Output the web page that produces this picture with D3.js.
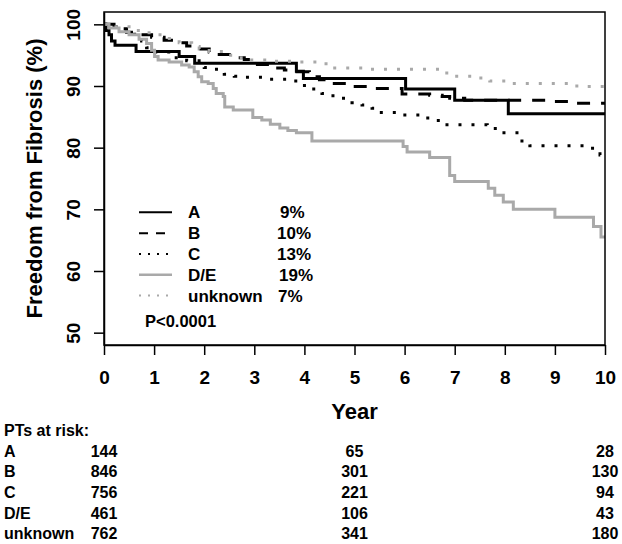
<!DOCTYPE html>
<html>
<head>
<meta charset="utf-8">
<script src="https://cdn.jsdelivr.net/npm/d3@7"></script>
<style>
  html, body { margin: 0; padding: 0; background: #fff; }
  svg { display: block; }
  text { font-family: "Liberation Sans", Arial, Helvetica, sans-serif; font-weight: bold; fill: #000; }
</style>
</head>
<body>
<svg id="chart" width="622" height="544"></svg>
<script>
// ---- data ----
const groups = ["A", "B", "C", "D/E", "unknown"];
const eventRates = ["9%", "10%", "13%", "19%", "7%"];

const timeA = [0, 0.04, 0.1, 0.15, 0.22, 0.64, 1.5, 1.81, 3.84, 3.98, 6.02, 7.0, 8.07, 10];
const survA = [100, 99.0, 98.3, 97.3, 96.6, 95.6, 94.8, 93.7, 92.4, 91.2, 89.5, 87.7, 85.5, 85.5];

const timeB = [0, 0.2, 0.45, 0.7, 0.95, 1.2, 1.45, 1.65, 1.9, 2.1, 2.3, 2.55, 2.8, 2.95, 3.3, 3.6, 3.85, 4.1, 4.3, 4.5, 4.85, 5.3, 5.95, 6.5, 6.75, 6.9, 7.2, 8.9, 9.35, 10];
const survB = [100, 99.3, 98.7, 98.3, 97.9, 97.4, 97.0, 96.5, 96.0, 95.5, 95.1, 94.6, 94.3, 93.5, 92.9, 92.6, 92.3, 91.5, 91.0, 90.4, 89.9, 89.6, 88.7, 88.5, 88.3, 88.0, 87.7, 87.5, 87.2, 87.2];

const timeC = [0, 0.15, 0.35, 0.55, 0.75, 0.85, 1.0, 1.4, 1.65, 2.0, 2.2, 2.4, 2.6, 2.8, 3.3, 3.75, 3.95, 4.15, 4.35, 4.5, 4.75, 4.95, 5.15, 5.35, 5.5, 5.95, 6.3, 6.6, 6.8, 7.65, 7.9, 8.3, 8.5, 9.7, 9.9, 10];
const survC = [100, 99.6, 99.1, 98.4, 97.3, 96.2, 95.5, 94.6, 94.1, 93.0, 92.7, 91.9, 91.6, 91.4, 91.1, 90.8, 90.1, 89.5, 88.8, 88.4, 88.0, 87.3, 86.9, 86.4, 85.7, 85.3, 84.8, 84.4, 83.7, 83.1, 82.4, 81.1, 80.3, 79.9, 78.8, 78.8];

const timeDE = [0, 0.1, 0.3, 0.5, 0.7, 0.85, 0.95, 1.01, 1.08, 1.3, 1.55, 1.7, 1.8, 1.88, 1.95, 2.08, 2.18, 2.24, 2.38, 2.41, 2.58, 2.97, 3.15, 3.32, 3.51, 3.67, 3.84, 4.15, 5.97, 6.05, 6.5, 6.9, 7.0, 7.67, 7.8, 7.97, 8.17, 9.0, 9.77, 9.92, 10];
const survDE = [100, 99.4, 98.8, 98.3, 97.6, 96.9, 95.8, 94.8, 94.2, 93.9, 93.4, 93.1, 92.3, 91.5, 90.7, 90.4, 89.6, 88.8, 88.3, 86.6, 86.1, 84.9, 84.5, 83.8, 83.2, 82.8, 82.4, 81.1, 80.2, 79.3, 78.4, 75.5, 74.5, 73.4, 72.3, 71.2, 70.0, 68.7, 67.2, 65.5, 65.5];

const timeU = [0, 0.2, 0.5, 0.9, 1.2, 1.5, 1.75, 1.9, 2.1, 2.4, 2.65, 2.9, 3.4, 3.8, 4.4, 4.55, 5.3, 6.8, 7.0, 7.45, 7.7, 8.15, 9.4, 9.6, 10];
const survU = [100, 99.6, 99.0, 98.3, 97.7, 97.0, 96.4, 96.0, 95.6, 95.0, 94.6, 94.2, 94.0, 93.9, 93.6, 92.9, 92.7, 92.1, 91.6, 91.3, 90.8, 90.4, 90.0, 89.9, 89.9];

const xTicks = [0, 1, 2, 3, 4, 5, 6, 7, 8, 9, 10];
const yTicks = [50, 60, 70, 80, 90, 100];

const riskTimes = [0, 5, 10];
const riskA = [144, 65, 28];
const riskB = [846, 301, 130];
const riskC = [756, 221, 94];
const riskDE = [461, 106, 43];
const riskU = [762, 341, 180];

// ---- styles (kept separate from data) ----
const GRAY = "#a9a9a9";
const styles = [
  { color: "#000", width: 3, dash: null,   legW: 2, legDash: null },
  { color: "#000", width: 3, dash: "13,11", legW: 2, legDash: "9,8" },
  { color: "#000", width: 3, dash: "3,10",  legW: 2, legDash: "2,7" },
  { color: GRAY,  width: 3, dash: null,   legW: 2.5, legDash: null },
  { color: GRAY,  width: 3, dash: "3,10",  legW: 2, legDash: "2,7" }
];

const svg = d3.select("#chart");
const x = d3.scaleLinear().domain([0, 10]).range([104, 605]);
const y = d3.scaleLinear().domain([48, 102]).range([345, 12]);

const curves = [
  [timeA, survA], [timeB, survB], [timeC, survC], [timeDE, survDE], [timeU, survU]
];

const line = d3.line().curve(d3.curveStepAfter).x(d => x(d[0])).y(d => y(d[1]));

curves.forEach((c, i) => {
  const pts = c[0].map((t, j) => [t, c[1][j]]);
  const s = styles[i];
  svg.append("path")
    .attr("d", line(pts))
    .attr("fill", "none")
    .attr("stroke", s.color)
    .attr("stroke-width", s.width)
    .attr("stroke-dasharray", s.dash)
    .attr("stroke-linecap", "butt")
    .attr("stroke-linejoin", "miter");
});

// ---- axes ----
const xAxis = svg.append("g")
  .attr("transform", `translate(0,345)`)
  .call(d3.axisBottom(x).tickValues(xTicks).tickFormat(d3.format("d")).tickSize(10).tickSizeOuter(0));
xAxis.select(".domain").attr("stroke", "#000").attr("stroke-width", 1.5);
xAxis.selectAll(".tick line").attr("stroke", "#000").attr("stroke-width", 1.5);
xAxis.selectAll(".tick text")
  .attr("y", 38.5).attr("dy", 0)
  .style("font-size", "19px").style("font-weight", "bold")
  .style("font-family", '"Liberation Sans", Arial, sans-serif').attr("fill", "#000");

const yAxis = svg.append("g")
  .attr("transform", `translate(104,0)`)
  .call(d3.axisLeft(y).tickValues(yTicks).tickFormat(d3.format("d")).tickSize(10).tickSizeOuter(0));
yAxis.select(".domain").attr("stroke", "#000").attr("stroke-width", 1.5);
yAxis.selectAll(".tick line").attr("stroke", "#000").attr("stroke-width", 1.5);
yAxis.selectAll(".tick text")
  .attr("x", 0).attr("y", -24).attr("dy", 0)
  .attr("transform", "rotate(-90)")
  .attr("text-anchor", "middle")
  .style("font-size", "19px").style("font-weight", "bold")
  .style("font-family", '"Liberation Sans", Arial, sans-serif').attr("fill", "#000");

// plot frame
svg.append("rect")
  .attr("x", x(0)).attr("y", y(102))
  .attr("width", x(10) - x(0)).attr("height", y(48) - y(102))
  .attr("fill", "none").attr("stroke", "#000").attr("stroke-width", 1.5);

// axis titles
svg.append("text")
  .attr("x", (x(0) + x(10)) / 2).attr("y", 419)
  .attr("text-anchor", "middle")
  .style("font-size", "22px")
  .text("Year");

svg.append("text")
  .attr("transform", `translate(42,${(y(48) + y(102)) / 2}) rotate(-90)`)
  .attr("text-anchor", "middle")
  .style("font-size", "22px")
  .text("Freedom from Fibrosis (%)");

// ---- legend ----
const legX1 = 139, legX2 = 172, legText = 188;
const legBase = [218.3, 239.2, 260, 280.8, 301.6];
const pctX = [280, 277, 277, 279, 278];
groups.forEach((g, i) => {
  const s = styles[i];
  svg.append("line")
    .attr("x1", legX1).attr("x2", legX2)
    .attr("y1", legBase[i] - 6).attr("y2", legBase[i] - 6)
    .attr("stroke", s.color).attr("stroke-width", s.legW)
    .attr("stroke-dasharray", s.legDash);
  svg.append("text").attr("x", legText).attr("y", legBase[i])
    .style("font-size", "17px").text(g);
  svg.append("text").attr("x", pctX[i]).attr("y", legBase[i])
    .style("font-size", "17px").text(eventRates[i]);
});
svg.append("text").attr("x", 145).attr("y", 326.7)
  .style("font-size", "16.5px").text("P<0.0001");

// ---- risk table ----
svg.append("text").attr("x", 4).attr("y", 435.7)
  .style("font-size", "16px").text("PTs at risk:");
const riskRows = [riskA, riskB, riskC, riskDE, riskU];
const rowBase = [456.7, 477.3, 498, 518.6, 539.2];
riskRows.forEach((row, i) => {
  svg.append("text").attr("x", 4).attr("y", rowBase[i])
    .style("font-size", "16px").text(groups[i]);
  row.forEach((v, j) => {
    svg.append("text").attr("x", x(riskTimes[j])).attr("y", rowBase[i])
      .attr("text-anchor", "middle")
      .style("font-size", "16px").text(v);
  });
});
</script>
</body>
</html>
